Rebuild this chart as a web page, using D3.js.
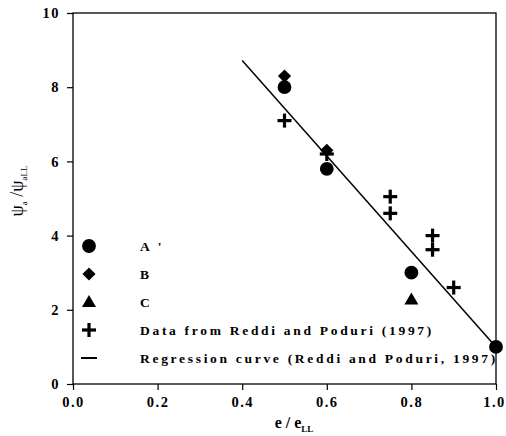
<!DOCTYPE html>
<html>
<head>
<meta charset="UTF-8">
<style>
  body { margin: 0; background: #fff; }
  svg { display: block; }
  text { font-family: "Liberation Serif", "DejaVu Serif", serif; fill: #000; }
</style>
</head>
<body>
<svg width="506" height="436"></svg>
<script src="https://cdn.jsdelivr.net/npm/d3@7"></script>
<script>
// data
const xTicks = [0.0, 0.2, 0.4, 0.6, 0.8, 1.0];
const yTicks = [0, 2, 4, 6, 8, 10];
const seriesA = [[0.5, 8.0], [0.6, 5.8], [0.8, 3.0], [1.0, 1.0]];
const seriesB = [[0.5, 8.3], [0.6, 6.3]];
const seriesC = [[0.8, 2.25]];
const reddi = [[0.5, 7.1], [0.6, 6.2], [0.75, 5.05], [0.75, 4.6], [0.85, 4.0], [0.85, 3.62], [0.9, 2.6]];
const regression = [[0.4, 8.72], [1.0, 1.0]];
const legendLabels = ["A '", "B", "C", "Data from Reddi and Poduri (1997)", "Regression curve (Reddi and Poduri, 1997)"];

const svg = d3.select("svg");
const plotL = 73, plotR = 496, plotT = 13, plotB = 384;
const x = d3.scaleLinear().domain([0, 1]).range([plotL, plotR]);
const y = d3.scaleLinear().domain([0, 10]).range([plotB, plotT]);

// frame
svg.append("rect").attr("x", plotL).attr("y", plotT)
  .attr("width", plotR - plotL).attr("height", plotB - plotT)
  .attr("fill", "none").attr("stroke", "#000").attr("stroke-width", 1.3);

const xAxis = svg.append("g").attr("transform", `translate(0,${plotB})`)
  .call(d3.axisBottom(x).tickValues(xTicks).tickSize(6).tickPadding(7).tickFormat(d3.format(".1f")));
const yAxis = svg.append("g").attr("transform", `translate(${plotL},0)`)
  .call(d3.axisLeft(y).tickValues(yTicks).tickSize(6).tickPadding(7));
[xAxis, yAxis].forEach(a => {
  a.select(".domain").remove();
  a.selectAll("line").attr("stroke", "#000").attr("stroke-width", 1.2);
  a.selectAll("text").attr("font-family", "Liberation Serif, serif")
    .attr("font-weight", "bold").attr("font-size", 14.5).style("letter-spacing", "1.5px");
});
xAxis.selectAll(".tick text").filter(d => d === 1).attr("dx", -2);

// regression line
svg.append("path").datum(regression)
  .attr("d", d3.line().x(d => x(d[0])).y(d => y(d[1])))
  .attr("stroke", "#000").attr("stroke-width", 1.5).attr("fill", "none");

const sym = {
  circle: d3.symbol().type(d3.symbolCircle).size(150),
  diamond: d3.symbol().type(d3.symbolDiamond2).size(110),
  triangle: d3.symbol().type(d3.symbolTriangle).size(85)
};

function drawCross(g) {
  g.append("line").attr("x1", -7).attr("x2", 7).attr("stroke", "#000").attr("stroke-width", 3.2);
  g.append("line").attr("y1", -7).attr("y2", 7).attr("stroke", "#000").attr("stroke-width", 3.2);
}

function plotSym(data, gen) {
  svg.append("g").selectAll("path").data(data).enter().append("path")
    .attr("d", gen).attr("fill", "#000")
    .attr("transform", d => `translate(${x(d[0])},${y(d[1])})`);
}
plotSym(seriesB, sym.diamond);
plotSym(seriesA, sym.circle);
plotSym(seriesC, sym.triangle);
svg.append("g").selectAll("g").data(reddi).enter().append("g")
  .attr("transform", d => `translate(${x(d[0])},${y(d[1])})`)
  .each(function () { drawCross(d3.select(this)); });

// legend
const lg = svg.append("g");
const rowY = [246, 274, 302, 330, 358];
const lx = 89;
lg.append("path").attr("d", sym.circle()).attr("transform", `translate(${lx},${rowY[0]})`);
lg.append("path").attr("d", sym.diamond()).attr("transform", `translate(${lx},${rowY[1]})`);
lg.append("path").attr("d", sym.triangle()).attr("transform", `translate(${lx},${rowY[2] + 1})`);
drawCross(lg.append("g").attr("transform", `translate(${lx},${rowY[3]})`));
lg.append("line").attr("x1", lx - 8).attr("x2", lx + 8).attr("y1", rowY[4]).attr("y2", rowY[4])
  .attr("stroke", "#000").attr("stroke-width", 2);
lg.selectAll("text").data(legendLabels).enter().append("text")
  .attr("x", 140).attr("y", (d, i) => rowY[i] + 4.5)
  .attr("font-weight", "bold").attr("font-size", 13.5).style("letter-spacing", "2.7px")
  .text(d => d);

// axis titles
const xl = svg.append("text").attr("x", 294).attr("y", 428).attr("text-anchor", "middle")
  .attr("font-weight", "bold").attr("font-size", 16);
xl.append("tspan").text("e / e");
xl.append("tspan").attr("font-size", 9).attr("dy", 4).text("LL");

const yl = svg.append("text").attr("transform", "translate(23,191) rotate(-90)")
  .attr("text-anchor", "middle").attr("font-size", 18);
yl.append("tspan").text("ψ");
yl.append("tspan").attr("font-size", 9).attr("dy", 4).text("a");
yl.append("tspan").attr("dy", -4).text(" /ψ");
yl.append("tspan").attr("font-size", 9).attr("dy", 4).text("aLL");
</script>
</body>
</html>
